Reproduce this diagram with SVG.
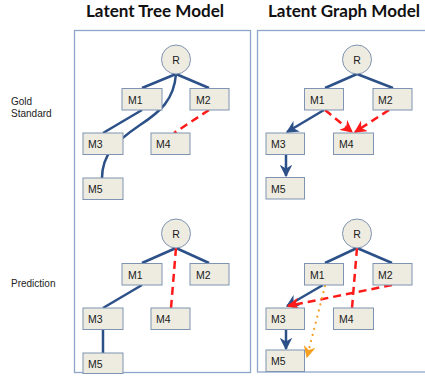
<svg xmlns="http://www.w3.org/2000/svg" width="425" height="378" viewBox="0 0 425 378">
<style>
.title{font-family:Lato,"Liberation Sans",sans-serif;font-weight:bold;font-size:17px;fill:#111}
.side{font-family:"Liberation Sans",Arial,sans-serif;font-size:10px;fill:#222}
.panel{fill:#fff;stroke:#8ea6c9;stroke-width:1.3}
.box{fill:#eeece1;stroke:#7f93b2;stroke-width:1}
.lbl{font-family:"Liberation Sans",Arial,sans-serif;font-size:10.5px;fill:#1a1a1a}
.rl{font-family:"Liberation Sans",Arial,sans-serif;font-size:10.5px;fill:#1a1a1a;text-anchor:middle}
.e{fill:none;stroke:#2c5088;stroke-width:2.5}
.d{fill:none;stroke:#ff1a1a;stroke-width:2.5;stroke-dasharray:8 5}
.o{fill:none;stroke:#f5a020;stroke-width:2.2;stroke-dasharray:0.1 6.2;stroke-linecap:round}
</style>
<defs>
<marker id="ab" viewBox="0 0 10 10" refX="9" refY="5" markerWidth="5" markerHeight="5" orient="auto" markerUnits="strokeWidth">
<path d="M0,0 L10,5 L0,10 L3,5 z" fill="#2c5088"/>
</marker>
<marker id="ar" viewBox="0 0 10 10" refX="9" refY="5" markerWidth="5" markerHeight="5" orient="auto" markerUnits="strokeWidth">
<path d="M0,0 L10,5 L0,10 L3,5 z" fill="#ff1a1a"/>
</marker>
<marker id="ao" viewBox="0 0 10 10" refX="9" refY="5" markerWidth="5.5" markerHeight="5.5" orient="auto" markerUnits="strokeWidth">
<path d="M0,0 L10,5 L0,10 L3,5 z" fill="#f5a020"/>
</marker>
</defs>

<text class="title" x="86" y="17" textLength="138" lengthAdjust="spacingAndGlyphs">Latent Tree Model</text>
<text class="title" x="268" y="17" textLength="152" lengthAdjust="spacingAndGlyphs">Latent Graph Model</text>
<text class="side" x="11" y="105">Gold</text>
<text class="side" x="11" y="116.5">Standard</text>
<text class="side" x="11" y="287">Prediction</text>

<rect class="panel" x="74.5" y="30.5" width="176" height="342"/>
<rect class="panel" x="257.5" y="30.5" width="170" height="341.5"/>

<g id="connectors">
<line class="e" x1="176" y1="74" x2="142" y2="88"/>
<line class="e" x1="176" y1="74" x2="209" y2="88"/>
<path class="e" d="M176,74 C174,100 160,112 140,125 C115,142 102,155 102,178"/>
<line class="e" x1="142" y1="110" x2="103" y2="133"/>
<line class="d" x1="209" y1="110" x2="174" y2="133"/>
<line class="e" x1="176" y1="248" x2="142" y2="263"/>
<line class="e" x1="176" y1="248" x2="209" y2="263"/>
<line class="d" x1="176" y1="248" x2="171" y2="308"/>
<line class="e" x1="142" y1="285" x2="103" y2="308"/>
<line class="e" x1="103" y1="329" x2="103" y2="353"/>
<line class="e" x1="357" y1="74" x2="325" y2="88"/>
<line class="e" x1="357" y1="74" x2="393" y2="88"/>
<line class="e" x1="324" y1="110" x2="287" y2="132" marker-end="url(#ab)"/>
<line class="d" x1="325" y1="110" x2="352" y2="132" marker-end="url(#ar)"/>
<line class="d" x1="389" y1="110" x2="355" y2="132" marker-end="url(#ar)"/>
<line class="e" x1="286" y1="154" x2="286" y2="176" marker-end="url(#ab)"/>
<line class="e" x1="357" y1="248" x2="325" y2="263"/>
<line class="e" x1="357" y1="248" x2="392" y2="263"/>
<line class="d" x1="357" y1="248" x2="352" y2="308"/>
<line class="e" x1="323" y1="285" x2="287" y2="306" marker-end="url(#ab)"/>
<line class="d" x1="392" y1="285" x2="288" y2="306" marker-end="url(#ar)"/>
<line class="o" x1="325" y1="286" x2="307" y2="357" marker-end="url(#ao)"/>
<line class="e" x1="286" y1="329" x2="286" y2="349" marker-end="url(#ab)"/>
</g>

<g id="lt-R"><circle class="box" cx="176" cy="59.5" r="14.5"/><text class="rl" x="176" y="63.5">R</text></g>
<g id="lt-M1"><rect class="box" x="122" y="88.5" width="40" height="21.5"/><text class="lbl" x="128" y="103.5">M1</text></g>
<g id="lt-M2"><rect class="box" x="190" y="88.5" width="39" height="21.5"/><text class="lbl" x="196" y="103.5">M2</text></g>
<g id="lt-M3"><rect class="box" x="83" y="133" width="40" height="21.5"/><text class="lbl" x="88" y="148">M3</text></g>
<g id="lt-M4"><rect class="box" x="151" y="133" width="39" height="21.5"/><text class="lbl" x="156" y="148">M4</text></g>
<g id="lt-M5"><rect class="box" x="83" y="178" width="40" height="21.5"/><text class="lbl" x="88" y="193">M5</text></g>

<g id="lb-R"><circle class="box" cx="176" cy="233.5" r="14.5"/><text class="rl" x="176" y="237.5">R</text></g>
<g id="lb-M1"><rect class="box" x="122" y="263.5" width="40" height="21.5"/><text class="lbl" x="128" y="278.5">M1</text></g>
<g id="lb-M2"><rect class="box" x="190" y="263.5" width="39" height="21.5"/><text class="lbl" x="196" y="278.5">M2</text></g>
<g id="lb-M3"><rect class="box" x="83" y="308" width="40" height="21.5"/><text class="lbl" x="88" y="323">M3</text></g>
<g id="lb-M4"><rect class="box" x="151" y="308" width="39" height="21.5"/><text class="lbl" x="156" y="323">M4</text></g>
<g id="lb-M5"><rect class="box" x="83" y="353" width="40" height="20.5"/><text class="lbl" x="88" y="367.5">M5</text></g>

<g id="rt-R"><circle class="box" cx="357" cy="59.5" r="14.5"/><text class="rl" x="357" y="63.5">R</text></g>
<g id="rt-M1"><rect class="box" x="304.5" y="88.5" width="39" height="21.5"/><text class="lbl" x="310" y="103.5">M1</text></g>
<g id="rt-M2"><rect class="box" x="373" y="88.5" width="39" height="21.5"/><text class="lbl" x="378" y="103.5">M2</text></g>
<g id="rt-M3"><rect class="box" x="266" y="133" width="38.5" height="21.5"/><text class="lbl" x="271" y="148">M3</text></g>
<g id="rt-M4"><rect class="box" x="333.5" y="133" width="40" height="21.5"/><text class="lbl" x="339" y="148">M4</text></g>
<g id="rt-M5"><rect class="box" x="266" y="177.5" width="38.5" height="21.5"/><text class="lbl" x="271" y="192.5">M5</text></g>

<g id="rb-R"><circle class="box" cx="357" cy="233.5" r="14.5"/><text class="rl" x="357" y="237.5">R</text></g>
<g id="rb-M1"><rect class="box" x="304.5" y="263.5" width="39" height="21.5"/><text class="lbl" x="310" y="278.5">M1</text></g>
<g id="rb-M2"><rect class="box" x="373" y="263.5" width="39" height="21.5"/><text class="lbl" x="378" y="278.5">M2</text></g>
<g id="rb-M3"><rect class="box" x="266" y="308" width="38.5" height="21.5"/><text class="lbl" x="271" y="323">M3</text></g>
<g id="rb-M4"><rect class="box" x="333.5" y="308" width="40" height="21.5"/><text class="lbl" x="339" y="323">M4</text></g>
<g id="rb-M5"><rect class="box" x="266" y="350" width="38.5" height="21.5"/><text class="lbl" x="271" y="365">M5</text></g>
</svg>
